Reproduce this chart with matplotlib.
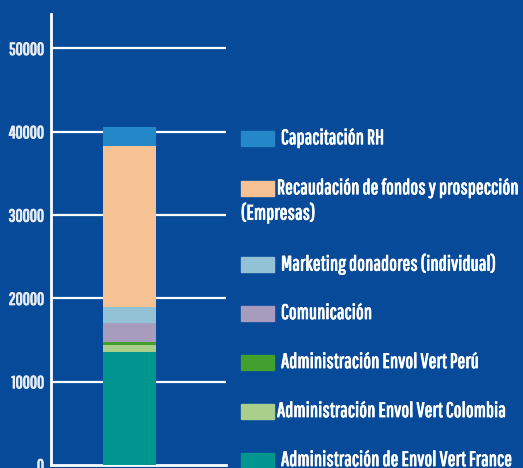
import matplotlib
matplotlib.use("Agg")
import matplotlib.pyplot as plt
import matplotlib.patheffects as pe
from matplotlib.patches import Rectangle

# stacked segments, bottom to top
categories = [
    "Administración de Envol Vert France",
    "Administración Envol Vert Colombia",
    "Administración Envol Vert Perú",
    "Comunicación",
    "Marketing donadores (individual)",
    "Recaudación de fondos y prospección",
    "Capacitación RH",
]
values = [13600, 850, 360, 2280, 1910, 19310, 2280]
colors = ["#00968f", "#a9cf8a", "#42a02e", "#a79cbd", "#93c1d6", "#f7c293", "#2488c8"]
yticks = [0, 10000, 20000, 30000, 40000, 50000]

BG = "#064a99"
plt.rcParams["font.family"] = ["Pathway Gothic One", "DejaVu Sans"]

fig = plt.figure(figsize=(5.23, 4.68), dpi=100, facecolor=BG)
W, H = 523, 468
# axes: x 51..226 px, y 14..465 px
ax = fig.add_axes([51 / W, (H - 465) / H, 175 / W, 451 / H])
ax.set_facecolor(BG)

bottom = 0
for v, c in zip(values, colors):
    ax.bar(0, v, bottom=bottom, width=0.303, color=c, zorder=3)
    bottom += v

ax.set_xlim(-0.449, 0.551)
ax.set_ylim(0, 54130)
ax.set_yticks(yticks)
ax.set_yticklabels([str(t) for t in yticks], fontsize=12.5, color="#e6ecf4")
for lab in ax.get_yticklabels():
    lab.set_path_effects([pe.withStroke(linewidth=0.7, foreground="#e6ecf4")])
ax.set_xticks([])
ax.tick_params(axis="y", length=0, pad=5)
for t in yticks[1:]:
    ax.axhline(t, color="white", lw=1.6, zorder=1)
for s in ["top", "right"]:
    ax.spines[s].set_visible(False)
for s in ["left", "bottom"]:
    ax.spines[s].set_color("white")
    ax.spines[s].set_linewidth(2)

# legend, top to bottom, drawn in pixel positions
bold = [pe.withStroke(linewidth=0.6, foreground="white")]
leg_names = categories[::-1]
leg_colors = colors[::-1]
leg_y = [138, 188, 264, 313, 362, 411, 460]
leg_tx = [281, 277, 281, 281, 281, 277, 281]
for name, c, y, tx in zip(leg_names, leg_colors, leg_y, leg_tx):
    fig.patches.append(Rectangle((241 / W, (H - y - 7.5) / H), 33 / W, 15 / H,
                                 transform=fig.transFigure, color=c))
    fig.text(tx / W, (H - y) / H, name, color="white", fontsize=15,
             va="center", ha="left", path_effects=bold)
fig.text(241 / W, (H - 213) / H, "(Empresas)", color="white", fontsize=15,
         va="center", ha="left", path_effects=bold)

fig.savefig("out.png", dpi=100, facecolor=BG)
